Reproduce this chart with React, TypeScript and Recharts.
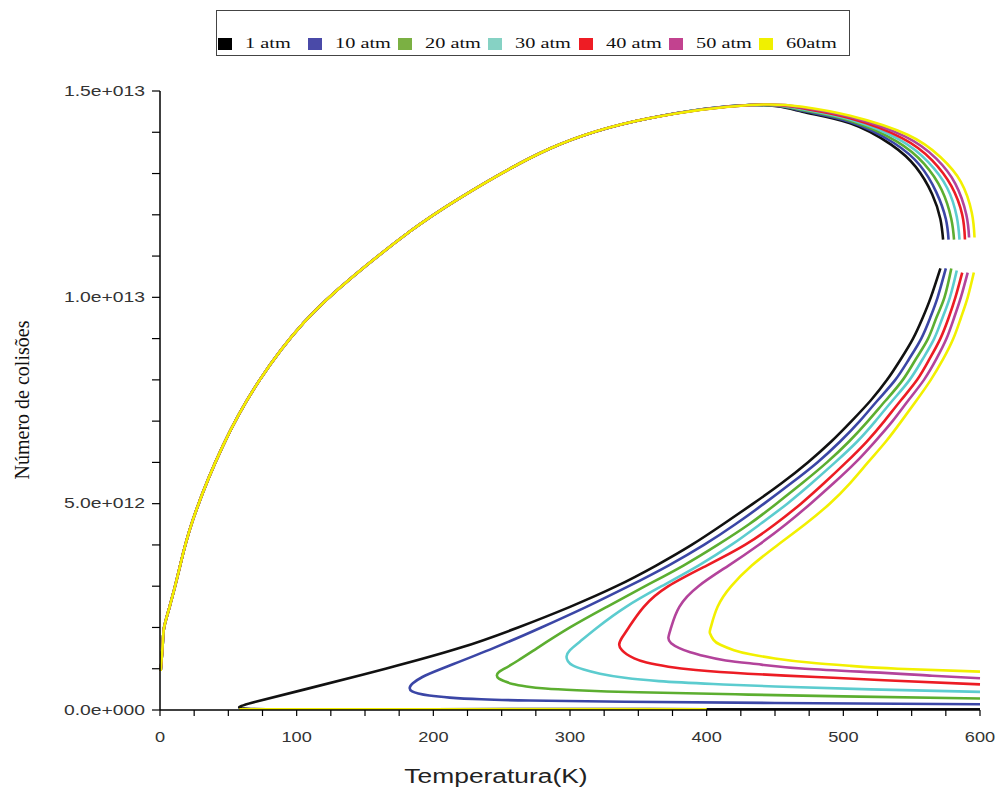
import React from "react";
import { LineChart, Line, XAxis, YAxis, Legend, Label } from "recharts";

type Pt = [number, number];

// temperature (K) vs number of collisions (x 1e12)
const pressures = ["1 atm", "10 atm", "20 atm", "30 atm", "40 atm", "50 atm", "60atm"];

// rising branch, identical for every pressure
const sharedArc: Pt[] = [
  [0.5, 0.95], [2, 1.6], [3, 2.0], [7, 2.5], [14, 3.4], [24, 4.6], [46, 6.4], [73, 8.0],
  [105, 9.38], [141, 10.5], [183, 11.6], [219, 12.4], [285, 13.6], [358, 14.34], [432, 14.66],
];

// falling part after the maximum, up to the gap near 590 K
const right1: Pt[] = [[470, 14.5], [505, 14.22], [535, 13.7], [553, 13.16], [565, 12.5], [571, 11.9], [573, 11.4]];
const right10: Pt[] = [[470, 14.52], [505, 14.25], [537, 13.74], [556, 13.2], [568, 12.55], [575, 11.9], [577, 11.4]];
const right20: Pt[] = [[470, 14.54], [505, 14.28], [539, 13.78], [559, 13.24], [572, 12.6], [579, 11.9], [581, 11.4]];
const right30: Pt[] = [[470, 14.56], [505, 14.31], [541, 13.82], [562, 13.28], [576, 12.65], [583, 11.95], [585, 11.4]];
const right40: Pt[] = [[470, 14.58], [505, 14.34], [543, 13.86], [565, 13.32], [579, 12.7], [587, 12.0], [589, 11.4]];
const right50: Pt[] = [[470, 14.6], [505, 14.37], [545, 13.9], [568, 13.36], [582, 12.75], [590, 12.0], [592, 11.45]];
const right60: Pt[] = [[470, 14.62], [505, 14.4], [547, 13.94], [571, 13.4], [586, 12.8], [594, 12.05], [596, 11.45]];

// lower part: down to the turning point, then out to 600 K
const low1: Pt[] = [
  [571, 10.7], [564, 10.0], [558, 9.5], [551, 9.0], [542, 8.5], [532, 8.0], [520, 7.5], [506, 7.0],
  [491, 6.5], [474, 6.0], [455, 5.5], [434, 5.0], [412, 4.5], [389, 4.0], [363, 3.5], [334, 3.0],
  [300, 2.5], [262, 2.0], [219, 1.5], [165, 1.0], [106, 0.5], [70, 0.2], [58, 0.07], [64, 0.03],
  [90, 0.02], [200, 0.02], [400, 0.02], [600, 0.02],
];
const low10: Pt[] = [
  [575, 10.7], [569, 10.0], [563.5, 9.5], [557, 9.0], [548, 8.5], [538, 8.0], [525, 7.5], [512, 7.0],
  [497.5, 6.5], [481, 6.0], [462, 5.5], [442, 5.0], [421, 4.5], [398, 4.0], [372, 3.5], [343, 3.0],
  [312, 2.5], [279, 2.0], [244, 1.5], [206, 1.0], [192, 0.8], [185, 0.65], [182.7, 0.53], [184.5, 0.45],
  [189, 0.4], [197, 0.35], [212, 0.3], [235, 0.26], [270, 0.23], [340, 0.2], [450, 0.17], [600, 0.14],
];
const low20: Pt[] = [
  [579, 10.7], [574, 10.0], [568, 9.5], [562, 9.0], [553, 8.5], [543.5, 8.0], [531, 7.5], [518, 7.0],
  [504, 6.5], [488, 6.0], [470, 5.5], [451, 5.0], [431, 4.5], [408, 4.0], [383, 3.5], [355, 3.0],
  [327, 2.5], [300, 2.0], [276, 1.5], [262, 1.2], [252, 1.0], [248, 0.92], [246.5, 0.84], [248, 0.76],
  [252, 0.7], [258, 0.63], [268, 0.57], [282, 0.52], [305, 0.48], [350, 0.43], [421, 0.38], [500, 0.33],
  [600, 0.28],
];
const low30: Pt[] = [
  [583, 10.65], [578, 10.0], [572.5, 9.5], [566.5, 9.0], [558, 8.5], [548.5, 8.0], [536, 7.5], [523.5, 7.0],
  [510, 6.5], [494, 6.0], [477, 5.5], [459, 5.0], [439, 4.5], [418, 4.0], [394, 3.5], [367, 3.0],
  [341, 2.5], [320, 2.0], [307, 1.65], [300, 1.45], [297.5, 1.3], [298.5, 1.18], [302, 1.08], [310, 0.98],
  [322, 0.88], [340, 0.78], [365, 0.7], [405, 0.63], [450, 0.57], [520, 0.5], [600, 0.44],
];
const low40: Pt[] = [
  [587, 10.6], [582, 10.0], [577, 9.5], [571, 9.0], [563, 8.5], [554, 8.0], [542, 7.5], [530, 7.0],
  [517, 6.5], [502, 6.0], [486, 5.5], [469, 5.0], [450, 4.5], [428, 4.0], [400, 3.5], [372, 3.0],
  [354, 2.5], [343, 2.0], [338, 1.75], [336, 1.58], [338, 1.45], [341.5, 1.35], [347, 1.25], [356, 1.15],
  [372, 1.05], [392, 0.97], [430, 0.88], [480, 0.8], [530, 0.72], [600, 0.62],
];
const low50: Pt[] = [
  [591, 10.6], [586, 10.0], [581, 9.5], [575.5, 9.0], [568, 8.5], [559, 8.0], [547.5, 7.5], [536, 7.0],
  [523, 6.5], [509, 6.0], [493, 5.5], [476, 5.0], [458, 4.5], [438, 4.0], [416, 3.5], [394, 3.0],
  [380, 2.5], [374, 2.0], [372, 1.75], [374, 1.62], [380, 1.5], [388, 1.4], [399, 1.3], [414, 1.2],
  [440, 1.1], [472, 1.0], [530, 0.9], [565, 0.83], [600, 0.77],
];
const low60: Pt[] = [
  [595.5, 10.6], [591, 10.0], [586, 9.5], [580.5, 9.0], [573, 8.5], [564, 8.0], [553.5, 7.5], [542.5, 7.0],
  [531, 6.5], [518, 6.0], [505, 5.5], [490, 5.0], [472, 4.5], [452, 4.0], [433, 3.5], [418, 3.0],
  [408, 2.5], [403, 2.0], [402.4, 1.86], [405, 1.7], [410, 1.58], [420, 1.45], [432, 1.35], [450, 1.25],
  [475, 1.15], [505, 1.07], [540, 1.0], [600, 0.93],
];
// yellow trace lying on the axis
const axis60: Pt[] = [[58, 0.02], [400, 0.02]];

const xTicks = [0, 25, 50, 75, 100, 125, 150, 175, 200, 225, 250, 275, 300, 325, 350, 375, 400, 425, 450, 475, 500, 525, 550, 575, 600];
const yTicks = [0, 1, 2, 3, 4, 5, 6, 7, 8, 9, 10, 11, 12, 13, 14, 15].map((v) => v * 1e12);

const lineColors = ["#111111", "#3b46a6", "#5cae30", "#5ccccf", "#ec1c24", "#b3439b", "#f2f000"];
const keyColors = ["#000000", "#4a4aa8", "#7bb043", "#86d2c4", "#ee1c24", "#c2428f", "#f0f000"];

type Row = { x: number; y: number | null };
const toRow = ([x, y]: Pt): Row => ({ x, y: y * 1e12 });

function build(right: Pt[], low: Pt[], extra?: Pt[]): Row[] {
  const rows: Row[] = [...sharedArc, ...right].map(toRow);
  rows.push({ x: right[right.length - 1][0], y: null });
  rows.push(...low.map(toRow));
  if (extra) {
    rows.push({ x: extra[0][0], y: null });
    rows.push(...extra.map(toRow));
  }
  return rows;
}

const series = [
  build(right1, low1),
  build(right10, low10),
  build(right20, low20),
  build(right30, low30),
  build(right40, low40),
  build(right50, low50),
  build(right60, low60, axis60),
];

const fmtY = (v: number) => {
  if (v === 0) return "0.0e+000";
  const e = Math.floor(Math.log10(v) + 1e-9);
  const m = v / Math.pow(10, e);
  return `${m.toFixed(1)}e+${String(e).padStart(3, "0")}`;
};

const YTick = (props: any) => {
  const { x, y, payload } = props;
  if (payload.value % 5e12 !== 0) return null;
  return (
    <text
      transform={`translate(${x},${y}) scale(1.38,1)`}
      textAnchor="end"
      dominantBaseline="central"
      fontFamily="Liberation Sans, Arial, sans-serif"
      fontSize={14}
      fill="#333"
    >
      {fmtY(payload.value)}
    </text>
  );
};

const XTick = (props: any) => {
  const { x, y, payload } = props;
  if (payload.value % 100 !== 0) return null;
  return (
    <text
      transform={`translate(${x},${y}) scale(1.3,1)`}
      textAnchor="middle"
      dy="0.71em"
      fontFamily="Liberation Sans, Arial, sans-serif"
      fontSize={14}
      fill="#333"
    >
      {payload.value}
    </text>
  );
};

const renderLegend = () => (
  <div
    style={{
      boxSizing: "border-box",
      width: 634,
      height: 46,
      border: "1.5px solid #444",
      display: "flex",
      alignItems: "flex-end",
      paddingBottom: 3,
      paddingLeft: 1,
      fontFamily: "Liberation Serif, Times New Roman, serif",
      fontSize: 14,
      color: "#111",
    }}
  >
    {pressures.map((p, i) => (
      <div key={p} style={{ width: 92, display: "flex", alignItems: "center", height: 16 }}>
        <span style={{ width: 14, height: 12, background: keyColors[i], display: "inline-block" }} />
        <span style={{ display: "inline-block", marginLeft: 13, transform: "scaleX(1.45)", transformOrigin: "left center", whiteSpace: "nowrap" }}>
          {p}
        </span>
      </div>
    ))}
  </div>
);

export default function App() {
  return (
    <div style={{ position: "absolute", left: 0, top: 0, width: 998, height: 796, background: "#fff" }}>
      <LineChart width={998} height={796} margin={{ top: 91, right: 18, bottom: 56, left: 10 }}>
        <XAxis
          type="number"
          dataKey="x"
          domain={[0, 600]}
          ticks={xTicks}
          tick={<XTick />}
          tickSize={6}
          tickMargin={16}
          height={30}
          interval={0}
          stroke="#000"
          axisLine={{ stroke: "#000", strokeWidth: 1.5 }}
          tickLine={{ stroke: "#000", strokeWidth: 1.2 }}
        >
          <Label
            content={() => (
              <text
                transform="translate(496,783) scale(1.32,1)"
                textAnchor="middle"
                fontFamily="Liberation Sans, Arial, sans-serif"
                fontSize={20}
                fill="#222"
              >
                Temperatura(K)
              </text>
            )}
          />
        </XAxis>
        <YAxis
          type="number"
          domain={[0, 15e12]}
          ticks={yTicks}
          tick={<YTick />}
          tickSize={8}
          tickMargin={7}
          width={150}
          interval={0}
          allowDataOverflow
          axisLine={{ stroke: "#000", strokeWidth: 1.5 }}
          tickLine={{ stroke: "#000", strokeWidth: 1.2 }}
        >
          <Label
            content={() => (
              <text
                transform="translate(29,400) rotate(-90)"
                textAnchor="middle"
                fontFamily="Liberation Serif, Times New Roman, serif"
                fontSize={20}
                fill="#111"
              >
                Número de colisões
              </text>
            )}
          />
        </YAxis>
        <Legend
          content={renderLegend}
          layout="vertical"
          align="center"
          verticalAlign="middle"
          wrapperStyle={{ position: "absolute", top: 10, left: 216, width: 634, height: 46 }}
        />
        {series.map((rows, i) => (
          <Line
            key={pressures[i]}
            name={pressures[i]}
            data={rows}
            dataKey="y"
            type="natural"
            stroke={lineColors[i]}
            strokeWidth={2.6}
            dot={false}
            activeDot={false}
            connectNulls={false}
            isAnimationActive={false}
          />
        ))}
      </LineChart>
    </div>
  );
}
